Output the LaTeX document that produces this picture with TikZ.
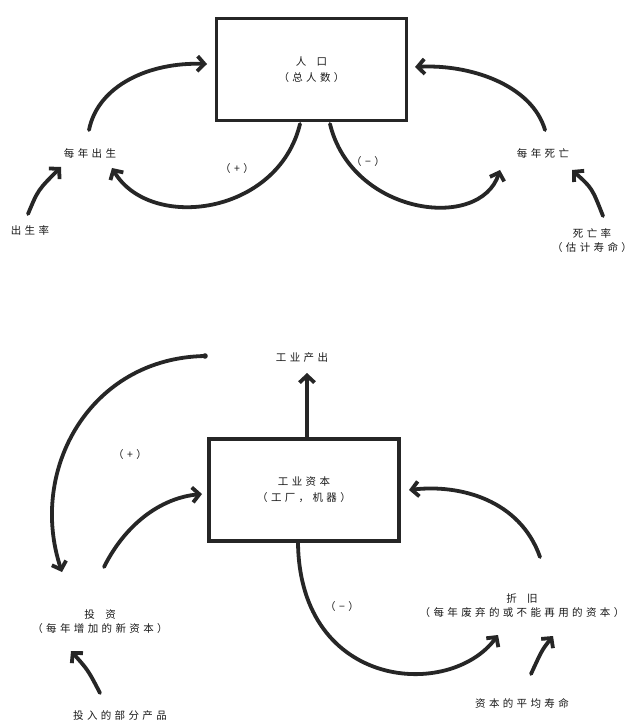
\documentclass[tikz,border=0pt]{standalone}
\usepackage{fontspec}
\newfontfamily\cjk{Noto Sans CJK SC}[LetterSpace=32]
\usetikzlibrary{arrows.meta}
\begin{document}
\begin{tikzpicture}[x=1pt,y=-1pt,
  lbl/.style={font=\cjk\fontsize{10.5}{14}\selectfont, text=black!90, align=center, inner sep=1pt},
  stock/.style={draw=black!85, line width=3.5pt, minimum width=190pt, minimum height=102pt, align=center,
    font=\cjk\fontsize{10.5}{16}\selectfont, text=black!90},
  flow/.style={draw=black!85, line width=3.8pt, line cap=round,
    -{Straight Barb[length=7pt,width=15pt,line width=3.8pt]}}]
\useasboundingbox[fill=white] (0,0) rectangle (636,722);

% ---------- top diagram ----------
\node[stock] (pop) at (311.5,69.5) {人\quad 口\\（总人数）};
\node[lbl] (births) at (90,153) {每年出生};
\node[lbl] (birthrate) at (30,230) {出生率};
\node[lbl] (deaths) at (543,153) {每年死亡};
\node[lbl] (deathrate) at (592,241) {死亡率\\（估计寿命）};
\node[lbl] (plus1) at (237,169) {（+）};
\node[lbl] (minus1) at (368,162) {（−）};

\coordinate (bA) at (89,130);
\coordinate (bB) at (207,64);
\coordinate (dA) at (545,130);
\coordinate (dB) at (415,67);
\coordinate (pL) at (300,124);
\coordinate (pLh) at (112,168);
\coordinate (pR) at (330,124);
\coordinate (pRh) at (500,170);
\coordinate (brA) at (28,214);
\coordinate (brB) at (61,167);
\coordinate (drA) at (603,216);
\coordinate (drB) at (572,170);

\draw[flow] (bA) .. controls (98,85) and (150,62) .. (bB);
\draw[flow] (dA) .. controls (532,85) and (470,64) .. (dB);
\draw[flow] (pL) .. controls (278,215) and (150,232) .. (pLh);
\draw[flow] (pR) .. controls (352,215) and (480,232) .. (pRh);
\draw[flow] (brA) .. controls (38,190) .. (brB);
\draw[flow] (drA) .. controls (592,188) .. (drB);

% ---------- bottom diagram ----------
\node[stock] (cap) at (304,490) {工业资本\\（工厂，机器）};
\node[lbl] (output) at (302,358) {工业产出};
\node[lbl] (invest) at (100,622) {投\quad 资\\（每年增加的新资本）};
\node[lbl] (part) at (120,716) {投入的部分产品};
\node[lbl] (depr) at (522,606) {折\quad 旧\\（每年废弃的或不能再用的资本）};
\node[lbl] (life) at (522,703) {资本的平均寿命};
\node[lbl] (plus2) at (130,455) {（+）};
\node[lbl] (minus2) at (342,607) {（−）};

\coordinate (oA) at (307,437);
\coordinate (oB) at (307,373);
\coordinate (dot) at (205,356);
\coordinate (arcEnd) at (62,572);
\coordinate (iA) at (104,567);
\coordinate (iB) at (202,494);
\coordinate (prA) at (100,693);
\coordinate (prB) at (71,651);
\coordinate (deA) at (540,557);
\coordinate (deB) at (409,490);
\coordinate (cB) at (298,543);
\coordinate (cBh) at (498,635);
\coordinate (lA) at (531,674);
\coordinate (lB) at (553,636);

\draw[flow] (oA) -- (oB);
\fill[black!85] (dot) circle (2.8pt);
\draw[flow] (dot) .. controls (90,358) and (28,470) .. (arcEnd);
\draw[flow] (iA) .. controls (125,525) and (160,498) .. (iB);
\draw[flow] (prA) .. controls (88,670) .. (prB);
\draw[flow] (deA) .. controls (520,500) and (460,484) .. (deB);
\draw[flow] (cB) .. controls (300,690) and (450,700) .. (cBh);
\draw[flow] (lA) .. controls (542,650) .. (lB);
\end{tikzpicture}
\end{document}
